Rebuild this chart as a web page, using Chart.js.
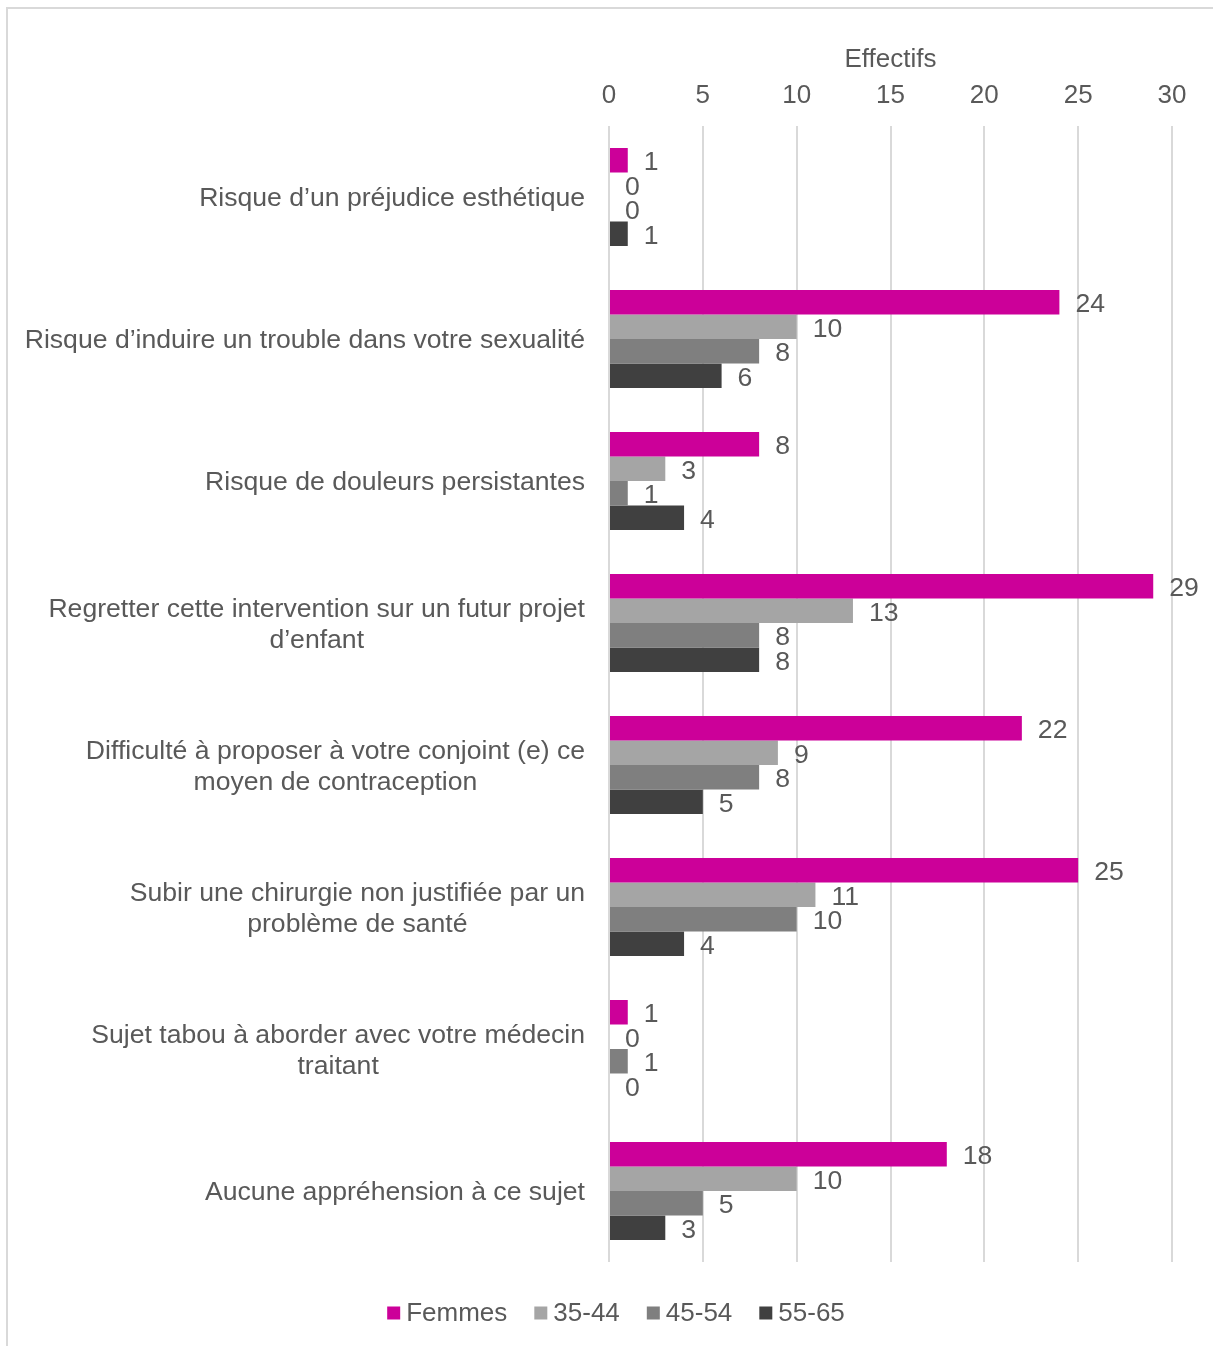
<!DOCTYPE html>
<html lang="fr">
<head>
<meta charset="utf-8">
<script src="https://cdn.jsdelivr.net/npm/chart.js@4.4.1/dist/chart.umd.min.js"></script>
<style>
  html, body { margin: 0; padding: 0; background: #fff; overflow: hidden; }
  #frame {
    position: absolute; left: 6px; top: 7px; width: 1300px; height: 1400px;
    border-left: 2px solid #d9d9d9; border-top: 2px solid #d9d9d9;
  }
  #wrap { position: absolute; left: 0; top: 0; width: 1213px; height: 1346px; }
</style>
</head>
<body>
<div id="frame"></div>
<div id="wrap"><canvas id="chart"></canvas></div>
<script>
const categories = [
  ["Risque d’un préjudice esthétique"],
  ["Risque d’induire un trouble dans votre sexualité"],
  ["Risque de douleurs persistantes"],
  ["Regretter cette intervention sur un futur projet", "d’enfant"],
  ["Difficulté à proposer à votre conjoint (e) ce", "moyen de contraception"],
  ["Subir une chirurgie non justifiée par un", "problème de santé"],
  ["Sujet tabou à aborder avec votre médecin", "traitant"],
  ["Aucune appréhension à ce sujet"]
];
const femmes = [1, 24, 8, 29, 22, 25, 1, 18];
const age35_44 = [0, 10, 3, 13, 9, 11, 0, 10];
const age45_54 = [0, 8, 1, 8, 8, 10, 1, 5];
const age55_65 = [1, 6, 4, 8, 5, 4, 0, 3];
const seriesNames = ["Femmes", "35-44", "45-54", "55-65"];
const seriesColors = ["#CC0099", "#A5A5A5", "#7F7F7F", "#404040"];
const axisTicks = [0, 5, 10, 15, 20, 25, 30];
const axisTitle = "Effectifs";

const FONT = "'Liberation Sans', Arial, sans-serif";
const FSIZE = 26;
const LABEL_SIZE = 26.6;
const TEXT = "#595959";

// Category labels: right-aligned block, lines centred inside the block
const categoryLabels = {
  id: 'categoryLabels',
  afterDraw(chart) {
    const ctx = chart.ctx;
    const y = chart.scales.y;
    const right = chart.chartArea.left - 24;
    const lh = 31;
    ctx.save();
    ctx.font = LABEL_SIZE + "px " + FONT;
    ctx.fillStyle = TEXT;
    ctx.textAlign = 'center';
    ctx.textBaseline = 'middle';
    categories.forEach((lines, i) => {
      const cy = y.getPixelForTick(i) + 2;
      const w = Math.max(...lines.map(l => ctx.measureText(l).width));
      const cx = right - w / 2;
      const top = cy - (lines.length - 1) * lh / 2;
      lines.forEach((l, k) => ctx.fillText(l, cx, top + k * lh));
    });
    ctx.restore();
  }
};

// Value labels after each bar end
const valueLabels = {
  id: 'valueLabels',
  afterDatasetsDraw(chart) {
    const ctx = chart.ctx;
    ctx.save();
    ctx.font = LABEL_SIZE + "px " + FONT;
    ctx.fillStyle = TEXT;
    ctx.textAlign = 'left';
    ctx.textBaseline = 'middle';
    chart.data.datasets.forEach((ds, di) => {
      const meta = chart.getDatasetMeta(di);
      meta.data.forEach((bar, i) => {
        ctx.fillText(String(ds.data[i]), bar.x + 16, bar.y + 2.5);
      });
    });
    ctx.restore();
  }
};

// Legend row under the plot: small square then its name
const bottomLegend = {
  id: 'bottomLegend',
  afterDraw(chart) {
    const ctx = chart.ctx;
    const box = 13, gapText = 6, gapItem = 27;
    const cy = chart.chartArea.bottom + 51;
    ctx.save();
    ctx.font = FSIZE + "px " + FONT;
    ctx.textBaseline = 'middle';
    ctx.textAlign = 'left';
    const widths = seriesNames.map(n => box + gapText + ctx.measureText(n).width);
    const total = widths.reduce((a, b) => a + b, 0) + gapItem * (widths.length - 1);
    let x = 616 - total / 2;
    seriesNames.forEach((n, i) => {
      ctx.fillStyle = seriesColors[i];
      ctx.fillRect(x, cy - box / 2, box, box);
      ctx.fillStyle = TEXT;
      ctx.fillText(n, x + box + gapText, cy + 1);
      x += widths[i] + gapItem;
    });
    ctx.restore();
  }
};

new Chart(document.getElementById('chart'), {
  type: 'bar',
  data: {
    labels: categories.map(c => c.join(' ')),
    datasets: [femmes, age35_44, age45_54, age55_65].map((d, i) => ({
      label: seriesNames[i],
      data: d,
      backgroundColor: seriesColors[i],
      borderWidth: 0,
      categoryPercentage: 0.69,
      barPercentage: 1.0
    }))
  },
  options: {
    indexAxis: 'y',
    responsive: true,
    maintainAspectRatio: false,
    animation: false,
    layout: { padding: { left: 0, right: 41, top: 0, bottom: 84 } },
    scales: {
      x: {
        position: 'top',
        min: axisTicks[0],
        max: axisTicks[axisTicks.length - 1],
        afterBuildTicks(scale) { scale.ticks = axisTicks.map(v => ({ value: v })); },
        afterFit(scale) { scale.height = 126; },
        grid: { color: '#d9d9d9', lineWidth: 2, drawTicks: false },
        border: { display: false },
        ticks: { color: TEXT, font: { family: FONT, size: FSIZE }, padding: 15 },
        title: {
          display: true, text: axisTitle, color: TEXT,
          font: { family: FONT, size: FSIZE }, padding: { top: 44, bottom: 0 }
        }
      },
      y: {
        afterFit(scale) { scale.width = 609; },
        grid: { display: false, drawTicks: false },
        border: { display: false },
        ticks: { display: false }
      }
    },
    plugins: {
      legend: { display: false },
      tooltip: { enabled: false }
    }
  },
  plugins: [categoryLabels, valueLabels, bottomLegend]
});
</script>
</body>
</html>
